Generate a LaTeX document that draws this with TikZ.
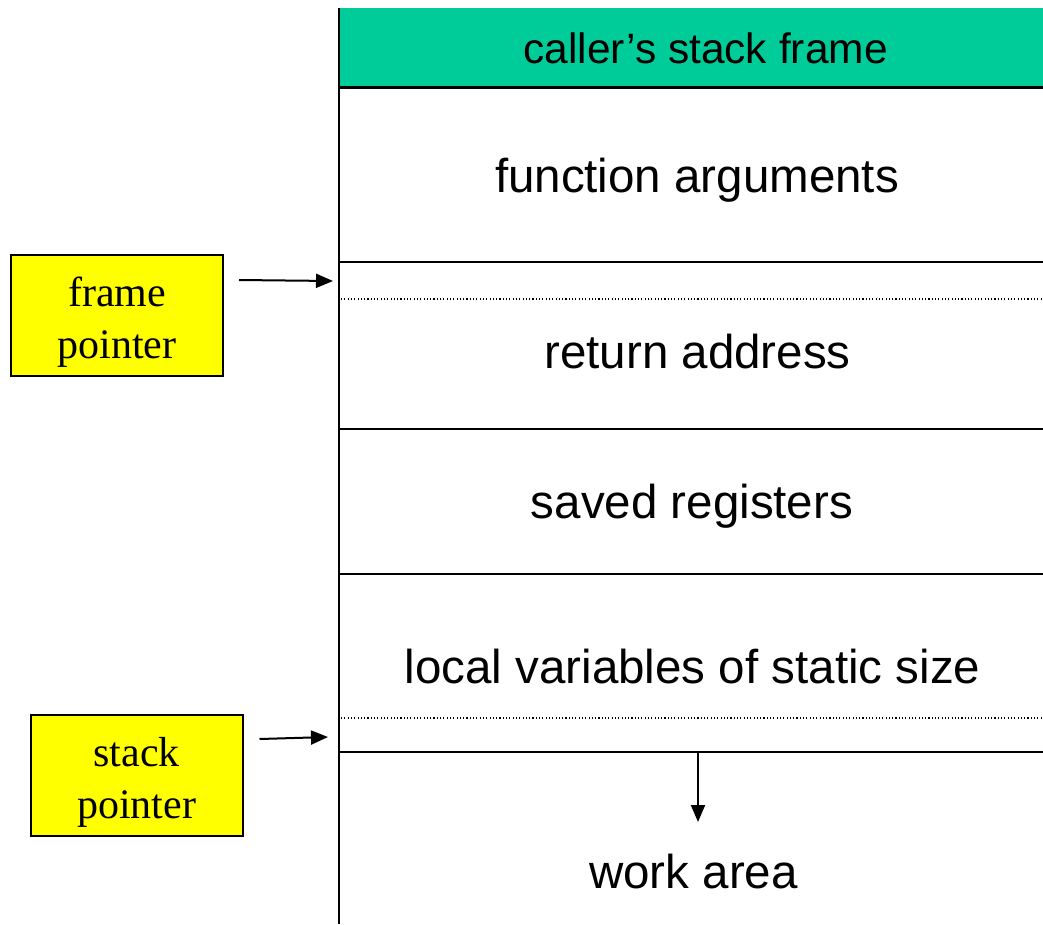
\documentclass[tikz,border=0pt]{standalone}
\usepackage{fontspec}
\setmainfont{Liberation Sans}
\newfontfamily\timesfont{Liberation Serif}
\usetikzlibrary{arrows.meta}
\definecolor{hdrgreen}{RGB}{0,204,153}
\definecolor{ptryellow}{RGB}{255,255,0}
\begin{document}
\begin{tikzpicture}[x=1pt,y=-1pt,
  stackline/.style={line width=2pt},
  sepdots/.style={line width=1.1pt, dash pattern=on 1.1pt off 2.2pt},
  celltext/.style={inner sep=0pt, anchor=base, font=\fontsize{47.5}{57}\selectfont},
  hdrtext/.style={inner sep=0pt, anchor=base, font=\fontsize{42.5}{50}\selectfont},
  ptrbox/.style={draw, line width=2pt, fill=ptryellow, minimum width=212pt, minimum height=121pt, inner sep=0pt},
  ptrtext/.style={inner sep=0pt, anchor=base, font=\timesfont\fontsize{42}{50}\selectfont},
  ptrarrow/.style={line width=2pt, -{Triangle[length=17pt,width=14pt]}},
]
\useasboundingbox (0,0) rectangle (1043,924);
% header
\fill[hdrgreen] (339,8) rectangle (1043,87);
\node[hdrtext] (hdr) at (705.5,63.5) {caller’s stack frame};
\draw[line width=3pt] (339,87) -- (1043,87);
% frame column
\draw[line width=2.5pt] (339,8) -- (339,924);
\draw[stackline] (339,262) -- (1043,262);
\draw[stackline] (339,429) -- (1043,429);
\draw[stackline] (339,574) -- (1043,574);
\draw[stackline] (339,752) -- (1043,752);
\draw[sepdots] (341,299) -- (1043,299);
\draw[sepdots] (341,718) -- (1043,718);
% cell texts
\node[celltext] (args) at (697,192.7) {function arguments};
\node[celltext] (ret) at (697.5,368) {return address};
\node[celltext] (regs) at (692,518.5) {saved registers};
\node[celltext] (locals) at (692.5,683) {local variables of static size};
\node[celltext] (work) at (693.5,888) {work area};
% pointer boxes
\node[ptrbox] (fp) at (117,315.5) {};
\node[ptrtext] (fpl1) at (117,306.7) {frame};
\node[ptrtext] (fpl2) at (117,358.3) {pointer};
\node[ptrbox] (sp) at (136.5,775.5) {};
\node[ptrtext] (spl1) at (136.5,766.7) {stack};
\node[ptrtext] (spl2) at (136.5,818.3) {pointer};
% arrows
\coordinate (fpend) at (333,281);
\coordinate (spend) at (328,737);
\coordinate (wastart) at (698,752);
\coordinate (waend) at (698,822);
\draw[ptrarrow] (fp.east) ++(15,-35.5) -- (fpend);
\draw[ptrarrow] (sp.east) ++(16,-36.5) -- (spend);
\draw[ptrarrow] (wastart) -- (waend);
\end{tikzpicture}
\end{document}
